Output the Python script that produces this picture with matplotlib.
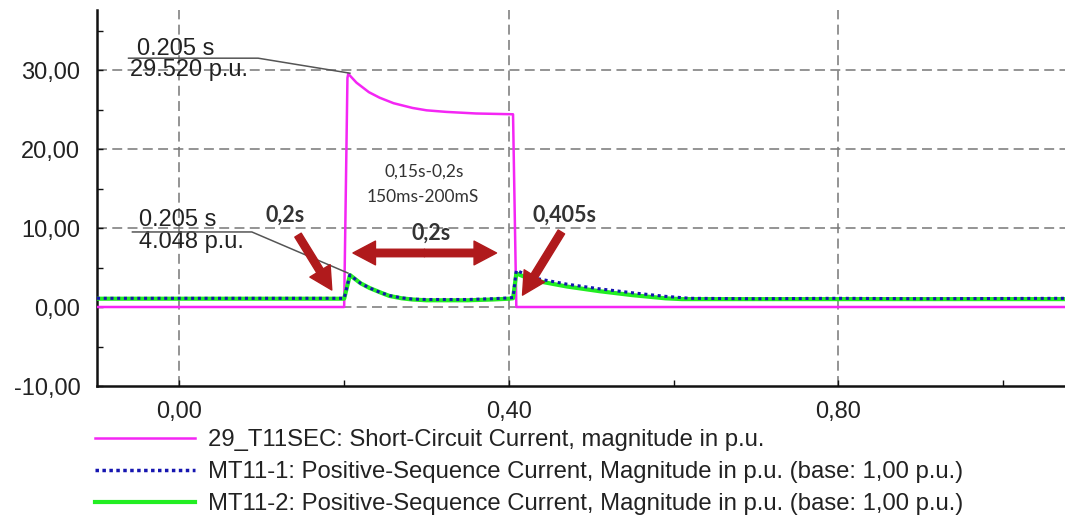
import matplotlib
matplotlib.use("Agg")
import matplotlib.pyplot as plt
from matplotlib.lines import Line2D
from matplotlib.patches import FancyArrowPatch
from matplotlib.ticker import FixedLocator, FuncFormatter

# ---- data ----
t_sc = [-0.10, 0.200, 0.204, 0.205, 0.215, 0.230, 0.243, 0.260, 0.283, 0.300, 0.324, 0.360, 0.405, 0.409, 1.075]
v_sc = [0.0, 0.0, 29.0, 29.52, 28.4, 27.2, 26.5, 25.8, 25.2, 24.9, 24.7, 24.5, 24.4, 0.0, 0.0]

t_mt1 = [-0.10, 0.10, 0.200, 0.207, 0.220, 0.231, 0.245, 0.255, 0.270, 0.283, 0.300, 0.350, 0.380, 0.400, 0.405,
         0.409, 0.429, 0.470, 0.510, 0.550, 0.590, 0.620, 0.700, 0.800, 0.900, 1.075]
v_mt1 = [1.1, 1.1, 1.1, 4.05, 3.0, 2.4, 1.8, 1.45, 1.15, 1.0, 0.95, 0.95, 1.05, 1.15, 1.2,
         4.65, 3.7, 2.9, 2.3, 1.8, 1.35, 1.1, 1.05, 1.1, 1.05, 1.1]

t_mt2 = [-0.10, 0.10, 0.200, 0.207, 0.220, 0.231, 0.245, 0.255, 0.270, 0.283, 0.300, 0.350, 0.380, 0.400, 0.405,
         0.409, 0.429, 0.470, 0.510, 0.550, 0.590, 0.610, 0.700, 0.800, 0.900, 1.075]
v_mt2 = [1.05, 1.05, 1.05, 4.05, 3.0, 2.4, 1.8, 1.4, 1.1, 0.95, 0.85, 0.85, 0.95, 1.05, 1.1,
         4.25, 3.4, 2.6, 2.0, 1.5, 1.1, 1.0, 1.0, 1.0, 1.0, 1.0]

labels = ["29_T11SEC: Short-Circuit Current, magnitude in p.u.",
          "MT11-1: Positive-Sequence Current, Magnitude in p.u. (base: 1,00 p.u.)",
          "MT11-2: Positive-Sequence Current, Magnitude in p.u. (base: 1,00 p.u.)"]

y_major = [-10, 0, 10, 20, 30]
y_minor = [-5, 5, 15, 25, 35]
x_major = [0.0, 0.4, 0.8]
x_minor = [0.2, 0.6, 1.0]

plt.rcParams['font.family'] = ['Liberation Sans', 'DejaVu Sans']

W, H = 1065, 517
fig = plt.figure(figsize=(W / 100, H / 100), dpi=100)
ax = fig.add_axes([97 / W, 1 - 386 / H, 1 - 97 / W, (386 - 10) / H])

ax.set_xlim(-0.10, 1.075)
ax.set_ylim(-10, 37.6)

c_mag = '#F426F4'
c_blue = '#1515B0'
c_green = '#22EE22'

ax.plot(t_sc, v_sc, color=c_mag, lw=1.8, zorder=3)
ax.plot(t_mt2, v_mt2, color=c_green, lw=3.0, zorder=4)
ax.plot(t_mt1, v_mt1, color=c_blue, lw=2.2, ls=(0, (1.0, 1.2)), zorder=5)

# spines
for s in ['top', 'right']:
    ax.spines[s].set_visible(False)
for s in ['left', 'bottom']:
    ax.spines[s].set_linewidth(1.8)
    ax.spines[s].set_color('#111111')

ax.yaxis.set_major_locator(FixedLocator(y_major))
ax.yaxis.set_minor_locator(FixedLocator(y_minor))
ax.xaxis.set_major_locator(FixedLocator(x_major))
ax.xaxis.set_minor_locator(FixedLocator(x_minor))
ax.yaxis.set_major_formatter(FuncFormatter(lambda v, p: f"{v:.2f}".replace('.', ',')))
ax.xaxis.set_major_formatter(FuncFormatter(lambda v, p: f"{v:.2f}".replace('.', ',')))
ax.tick_params(which='both', direction='in', length=4, width=1, color='#111111')
ax.tick_params(axis='y', which='major', labelsize=17, pad=12, labelcolor='#222222')
ax.tick_params(axis='x', which='major', labelsize=17, pad=11, labelcolor='#222222')

gkw = dict(color='#777777', lw=1.1, ls=(0, (6.5, 3.5)), zorder=1)
for yv in [0, 10, 20, 30]:
    ax.axhline(yv, **gkw)
for xv in x_major:
    ax.axvline(xv, **gkw)

# cursor annotations
lead = dict(color='#555555', lw=1.1, zorder=6)
ax.plot([-0.0617, 0.0956, 0.207], [31.5, 31.5, 29.6], **lead)
ax.text(-0.051, 32.7, "0.205 s", fontsize=17, ha='left', va='center', color='#222222')
ax.text(-0.0605, 30.0, "29.520 p.u.", fontsize=17, ha='left', va='center', color='#222222')

ax.plot([-0.057, 0.088, 0.2046], [9.5, 9.5, 4.3], **lead)
ax.text(-0.0496, 11.0, "0.205 s", fontsize=17, ha='left', va='center', color='#222222')
ax.text(-0.0496, 8.2, "4.048 p.u.", fontsize=17, ha='left', va='center', color='#222222')

# hand annotations
tf = ['Lato', 'DejaVu Sans']
ax.text(0.128, 11.6, "0,2s", fontsize=15.5, fontweight='bold', ha='center', va='center', color='#333333', family=tf)
ax.text(0.305, 9.4, "0,2s", fontsize=15.5, fontweight='bold', ha='center', va='center', color='#333333', family=tf)
ax.text(0.467, 11.6, "0,405s", fontsize=15.5, fontweight='bold', ha='center', va='center', color='#333333', family=tf)
ax.text(0.2966, 17.1, "0,15s-0,2s", fontsize=12.5, ha='center', va='center', color='#333333', family=tf)
ax.text(0.2954, 13.9, "150ms-200mS", fontsize=12.5, ha='center', va='center', color='#333333', family=tf)

red = '#B01A1C'
astyle = 'simple,head_width=0.95,head_length=0.9,tail_width=0.3'
arrows = [((0.144, 9.1), (0.185, 2.15)),
          ((0.2975, 6.84), (0.2107, 6.84)),
          ((0.2975, 6.84), (0.385, 6.84)),
          ((0.4637, 9.5), (0.4165, 1.5))]
for a, b in arrows:
    ax.add_patch(FancyArrowPatch(a, b, arrowstyle=astyle, mutation_scale=18, color=red,
                                 shrinkA=0, shrinkB=0, zorder=7))

handles = [Line2D([], [], color=c_mag, lw=1.8),
           Line2D([], [], color=c_blue, lw=2.5, ls=(0, (1.0, 1.0))),
           Line2D([], [], color=c_green, lw=3.0)]
fig.legend(handles, labels, loc='upper left', bbox_to_anchor=(95 / W, 1 - 429 / H),
           frameon=False, fontsize=17.2, handlelength=4.2, handletextpad=0.55,
           labelspacing=0.42, borderpad=0, borderaxespad=0, labelcolor='#222222')

fig.savefig('out.png', dpi=100)
